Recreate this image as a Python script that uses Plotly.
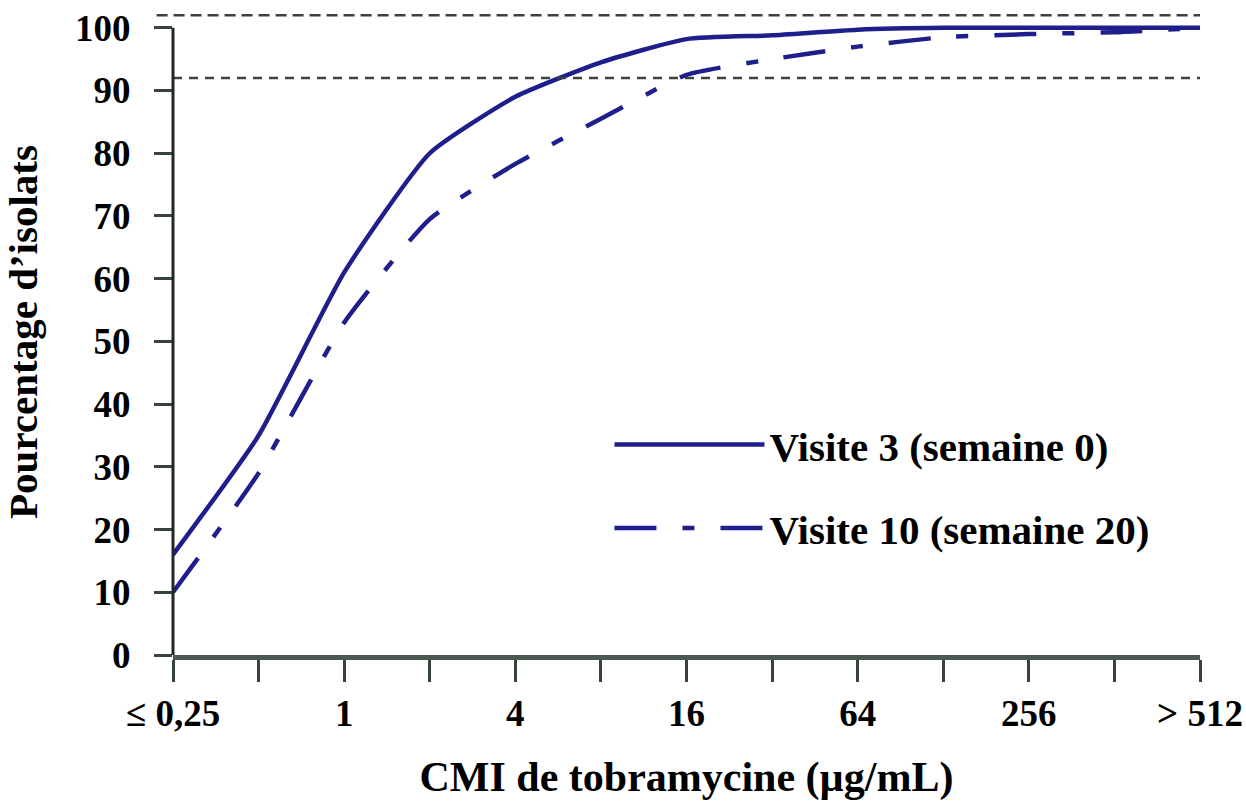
import plotly.graph_objects as go

categories = ["≤ 0,25", "0,5", "1", "2", "4", "8", "16", "32", "64", "128", "256", "512", "> 512"]
tick_labels = ["≤ 0,25", "", "1", "", "4", "", "16", "", "64", "", "256", "", "> 512"]
visite3 = [16, 35, 61, 80, 89, 94.5, 98.2, 98.8, 99.7, 100, 100, 100, 100]
visite10 = [10, 29, 53, 69.5, 78.3, 85.5, 92.5, 95, 97, 98.5, 99, 99.3, 100]
ref_lines = [102, 92]
y_ticks = [0, 10, 20, 30, 40, 50, 60, 70, 80, 90, 100]

FONT = "Liberation Serif"
LINE_COLOR = "#1e1e8c"
AXIS_COLOR = "#38443b"

fig = go.Figure()
fig.add_trace(go.Scatter(
    x=categories, y=visite3, mode="lines", name="Visite 3 (semaine 0)",
    line=dict(color=LINE_COLOR, width=4.5, shape="spline", smoothing=0.5),
    legendgroup="a",
))
fig.add_trace(go.Scatter(
    x=categories, y=visite10, mode="lines", name="Visite 10 (semaine 20)",
    line=dict(color=LINE_COLOR, width=4.5, shape="spline", smoothing=0.5,
              dash="42px,26px,12px,26px"),
    legendgroup="b",
))

# reference dashed lines
fig.add_shape(type="line", xref="x domain", yref="y", x0=-0.016, x1=1,
              y0=ref_lines[0], y1=ref_lines[0],
              line=dict(color=AXIS_COLOR, width=2.5, dash="11px,6px"))
fig.add_shape(type="line", xref="x domain", yref="y", x0=0, x1=1,
              y0=ref_lines[1], y1=ref_lines[1],
              line=dict(color=AXIS_COLOR, width=2.5, dash="9px,7px"))
# y axis line up to 100
fig.add_shape(type="line", xref="x domain", yref="y", x0=0, x1=0,
              y0=0, y1=y_ticks[-1],
              line=dict(color="#222a24", width=3))

fig.update_layout(
    width=1246, height=801,
    margin=dict(l=173, r=46, t=9, b=146),
    plot_bgcolor="white", paper_bgcolor="white",
    font=dict(family=FONT, color="black"),
    showlegend=True,
    legend=dict(x=0.425, y=0.377, xanchor="left", yanchor="top",
                font=dict(size=41, family=FONT, weight="bold"),
                tracegroupgap=27, itemwidth=150, bgcolor="rgba(0,0,0,0)",
                traceorder="grouped"),
    xaxis=dict(
        type="category", categoryorder="array", categoryarray=categories,
        range=[0, 12], tickvals=categories, ticktext=tick_labels,
        ticks="outside", ticklen=22, tickwidth=3, tickcolor=AXIS_COLOR,
        showline=True, linewidth=5, linecolor="#4b5a50",
        showgrid=False, zeroline=False, automargin=False,
        tickfont=dict(size=37, family=FONT, weight="bold"),
        title=dict(text="CMI de tobramycine (µg/mL)", standoff=30,
                   font=dict(size=42, family=FONT, weight="bold")),
    ),
    yaxis=dict(
        range=[0, 103], tickvals=y_ticks,
        ticks="outside", ticklen=18, tickwidth=3, tickcolor=AXIS_COLOR,
        showline=False, showgrid=False, zeroline=False, automargin=False,
        ticklabelstandoff=16,
        tickfont=dict(size=37, family=FONT, weight="bold"),
        title=dict(text="Pourcentage d’isolats", standoff=24,
                   font=dict(size=41, family=FONT, weight="bold")),
    ),
)

fig.write_html("out.html")
